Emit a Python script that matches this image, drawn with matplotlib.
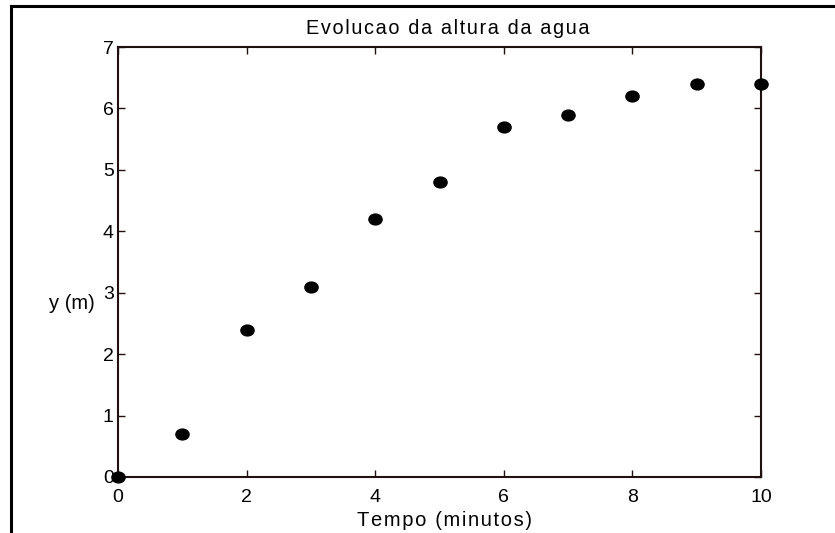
import matplotlib
matplotlib.use('Agg')
import matplotlib.pyplot as plt
from matplotlib.lines import Line2D
from matplotlib.path import Path
from matplotlib.transforms import Affine2D

plt.rcParams['font.family'] = ['Liberation Sans', 'DejaVu Sans']

# tempo (minutos) e altura da agua (m)
tempo = [0, 1, 2, 3, 4, 5, 6, 7, 8, 9, 10]
altura = [0, 0.7, 2.4, 3.1, 4.2, 4.8, 5.7, 5.9, 6.2, 6.4, 6.4]
xticks = [0, 2, 4, 6, 8, 10]
yticks = [0, 1, 2, 3, 4, 5, 6, 7]


def espacado(s):
    # letras afastadas como no original
    return '\u200a'.join(s)


fig = plt.figure(figsize=(8.35, 5.33), dpi=100)
ax = fig.add_axes([0.1413, 0.1051, 0.7701, 0.8067])

# marcador ligeiramente achatado
elipse = Path.unit_circle().transformed(Affine2D().scale(1.0, 0.82))
ax.plot(tempo, altura, linestyle='none', marker=elipse, markersize=9.5,
        color='black', clip_on=False, zorder=5)

ax.set_xlim(0, 10)
ax.set_ylim(0, 7)
ax.set_xticks(xticks)
ax.set_yticks(yticks)
spine_col = '#201010'
for s in ax.spines.values():
    s.set_color(spine_col)
    s.set_linewidth(1.5)
ax.tick_params(axis='both', direction='in', length=5, width=1, color=spine_col,
               top=True, right=True, labelsize=14)
ax.tick_params(axis='x', pad=9)
ax.tick_params(axis='y', pad=3)

fig.text(0.536, 0.947, espacado('Evolucao da altura da agua'),
         ha='center', va='center', fontsize=14.3)
fig.text(0.532, 0.024, espacado('Tempo (minutos)'), ha='center', va='center', fontsize=14.5)
fig.text(0.114, 0.43, 'y (m)', ha='right', va='center', fontsize=14.5)

# moldura exterior
fig.add_artist(Line2D([11 / 835, 11 / 835], [0, 1 - 6 / 533], color='black', linewidth=2.2))
fig.add_artist(Line2D([11 / 835, 1], [1 - 6 / 533, 1 - 6 / 533], color='black', linewidth=2.2))

fig.savefig('out.png', dpi=100)
